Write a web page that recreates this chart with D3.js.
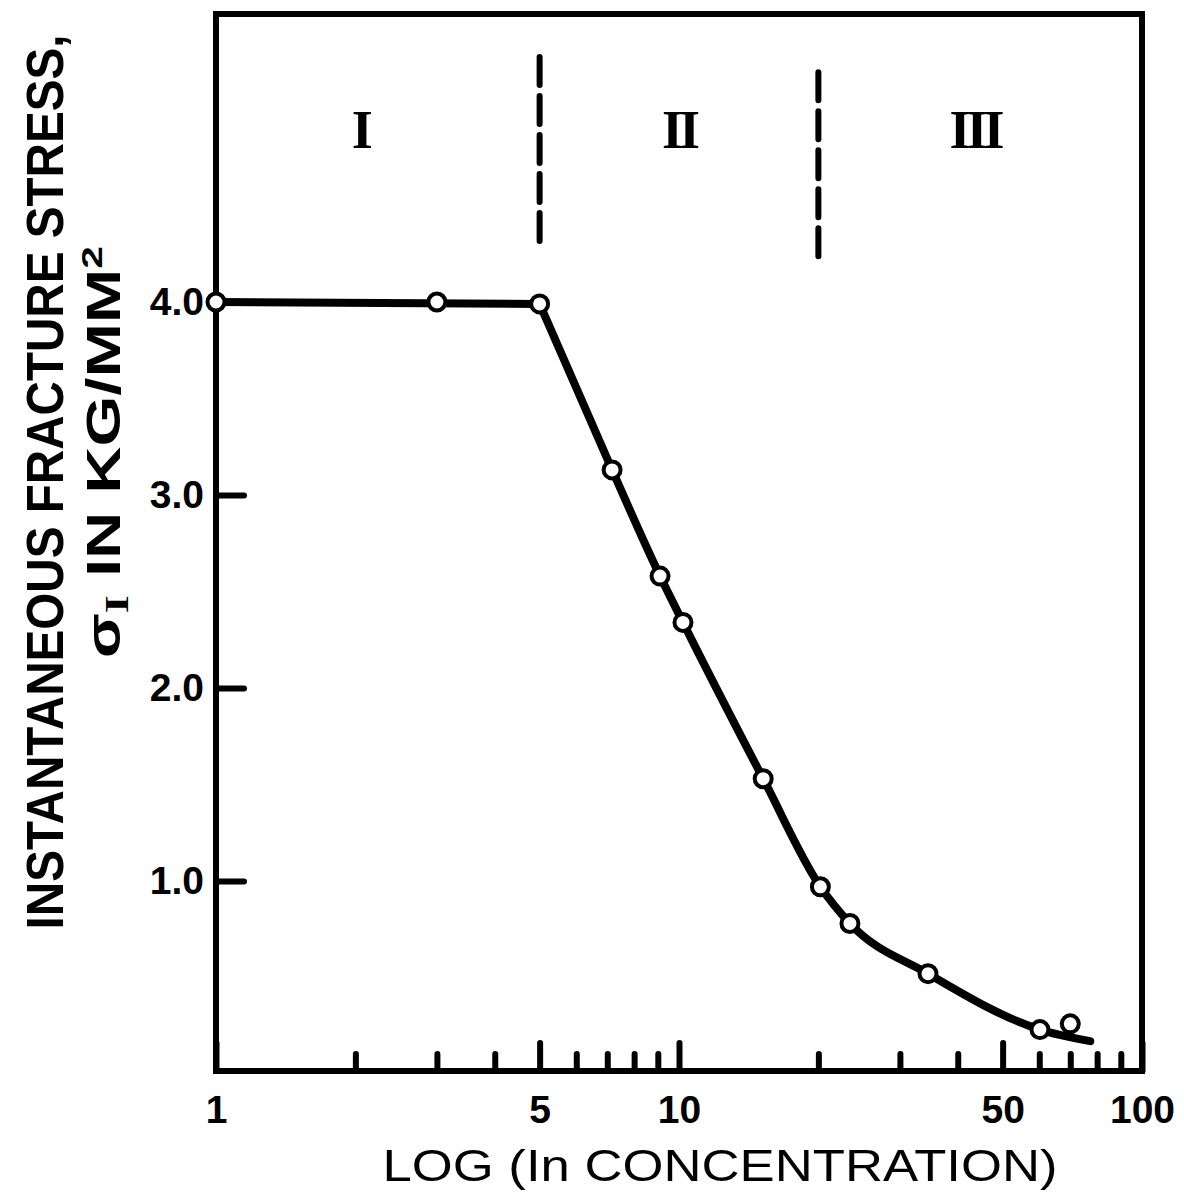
<!DOCTYPE html>
<html>
<head>
<meta charset="utf-8">
<script src="https://cdn.jsdelivr.net/npm/d3@7"></script>
<style>
  body { margin: 0; background: #fff; }
</style>
</head>
<body>
<div id="chart"></div>
<script>
// measured points (concentration, stress kg/mm2)
const concentration = [1, 3.0, 5, 7.17, 9.1, 10.2, 15.2, 20.2, 23.4, 34.5, 60.2, 70];
const stress = [4.0, 4.0, 3.99, 3.13, 2.58, 2.34, 1.53, 0.97, 0.78, 0.52, 0.23, 0.26];

// faired curve through the data
const curveConc = [5, 7.17, 9.1, 10.2, 15.2, 20.2, 23.4, 34.5, 60.2, 77.3];
const curveStress = [3.99, 3.13, 2.58, 2.34, 1.53, 0.97, 0.78, 0.52, 0.23, 0.17];
const flatConc = [1, 5];
const flatStress = [4.0, 3.99];

const xMajor = [1, 5, 10, 50, 100];
const xMinor = [2, 3, 4, 6, 7, 8, 9, 20, 30, 40, 60, 70, 80, 90];
const yTicks = [1.0, 2.0, 3.0, 4.0];

// regions
const regionNames = ["I", "II", "III"];
const regionAt = [2.05, 10, 43.6];
const boundaries = [5, 20];
const boundaryTop = [5.27, 5.19];
const boundaryBottom = [4.27, 4.18];

const W = 1184, H = 1192;
const plotLeft = 216, plotRight = 1142, plotTop = 14, plotBottom = 1071;

const svg = d3.select("#chart")
    .append("svg")
    .attr("width", W)
    .attr("height", H);

const x = d3.scaleLog()
    .domain([1, 100])
    .range([plotLeft, plotRight]);

const y = d3.scaleLinear()
    .domain([0, 4])
    .range([1074, 302]);

// frame
svg.append("rect")
    .attr("x", plotLeft)
    .attr("y", plotTop)
    .attr("width", plotRight - plotLeft)
    .attr("height", plotBottom - plotTop)
    .attr("fill", "none")
    .attr("stroke", "#000")
    .attr("stroke-width", 6);

// X axis, ticks pointing inward
svg.append("g")
    .attr("transform", "translate(0," + plotBottom + ")")
    .call(d3.axisBottom(x).tickValues(xMajor).tickSize(-28).tickPadding(24)
        .tickFormat(d3.format("d")));
svg.append("g")
    .attr("transform", "translate(0," + plotBottom + ")")
    .call(d3.axisBottom(x).tickValues(xMinor).tickSize(-17).tickFormat(""));

// Y axis
svg.append("g")
    .attr("transform", "translate(" + plotLeft + ",0)")
    .call(d3.axisLeft(y).tickValues(yTicks).tickSize(-28).tickPadding(12)
        .tickFormat(d3.format(".1f")));

svg.selectAll(".domain").remove();
svg.selectAll(".tick line")
    .attr("stroke", "#000")
    .attr("stroke-width", 6)
    .attr("stroke-linecap", "round");
svg.selectAll(".tick text")
    .attr("font-family", "Liberation Sans, Arial, sans-serif")
    .attr("font-weight", "bold")
    .attr("font-size", "39px")
    .attr("fill", "#000");

// region boundaries
svg.selectAll(".boundary")
    .data(boundaries)
    .enter()
    .append("line")
    .attr("x1", d => x(d))
    .attr("x2", d => x(d))
    .attr("y1", (d, i) => y(boundaryTop[i]))
    .attr("y2", (d, i) => y(boundaryBottom[i]))
    .attr("stroke", "#000")
    .attr("stroke-width", 6)
    .attr("stroke-dasharray", "28,11")
    .attr("stroke-linecap", "round");

svg.selectAll(".region")
    .data(regionNames)
    .enter()
    .append("text")
    .attr("x", (d, i) => x(regionAt[i]))
    .attr("y", 148)
    .attr("text-anchor", "middle")
    .attr("font-family", "Liberation Serif, serif")
    .attr("font-weight", "bold")
    .attr("font-size", "54px")
    .attr("letter-spacing", "-4px")
    .text(d => d);

// curve
const line = d3.line()
    .x(d => x(d[0]))
    .y(d => y(d[1]));

svg.append("path")
    .datum(d3.zip(flatConc, flatStress))
    .attr("d", line)
    .attr("fill", "none")
    .attr("stroke", "#000")
    .attr("stroke-width", 8);

svg.append("path")
    .datum(d3.zip(curveConc, curveStress))
    .attr("d", line.curve(d3.curveMonotoneX))
    .attr("fill", "none")
    .attr("stroke", "#000")
    .attr("stroke-width", 8)
    .attr("stroke-linecap", "round");

// points
svg.selectAll(".pt")
    .data(d3.zip(concentration, stress))
    .enter()
    .append("circle")
    .attr("cx", d => x(d[0]))
    .attr("cy", d => y(d[1]))
    .attr("r", 8.5)
    .attr("fill", "#fff")
    .attr("stroke", "#000")
    .attr("stroke-width", 4);

// axis titles
svg.append("text")
    .attr("x", 720)
    .attr("y", 1181)
    .attr("text-anchor", "middle")
    .attr("font-family", "Liberation Sans, Arial, sans-serif")
    .attr("font-size", "44px")
    .attr("textLength", 675)
    .attr("lengthAdjust", "spacingAndGlyphs")
    .text("LOG (In CONCENTRATION)");

// condensed title: squeeze horizontally to fit the measured length
const t1 = svg.append("text")
    .attr("text-anchor", "middle")
    .attr("font-family", "Liberation Sans, Arial, sans-serif")
    .attr("font-weight", "bold")
    .attr("font-size", "52px")
    .text("INSTANTANEOUS FRACTURE STRESS,");
const t1w = t1.node().getComputedTextLength();
t1.attr("transform", "translate(63,482) rotate(-90) scale(" + (895 / t1w) + ",1)");

const t2 = svg.append("text")
    .attr("text-anchor", "middle")
    .attr("font-family", "Liberation Sans, Arial, sans-serif")
    .attr("font-weight", "bold")
    .attr("font-size", "48px");
t2.append("tspan").text("σ");
t2.append("tspan").attr("font-size", "34px").attr("dy", 8).attr("font-family", "Liberation Serif, serif").text("I");
t2.append("tspan").attr("dy", -8).text(" IN KG/MM");
t2.append("tspan").attr("font-size", "30px").attr("dy", -18).text("2");
const t2w = t2.node().getComputedTextLength();
t2.attr("transform", "translate(120,452) rotate(-90) scale(" + (412 / t2w) + ",1)");
</script>
</body>
</html>
